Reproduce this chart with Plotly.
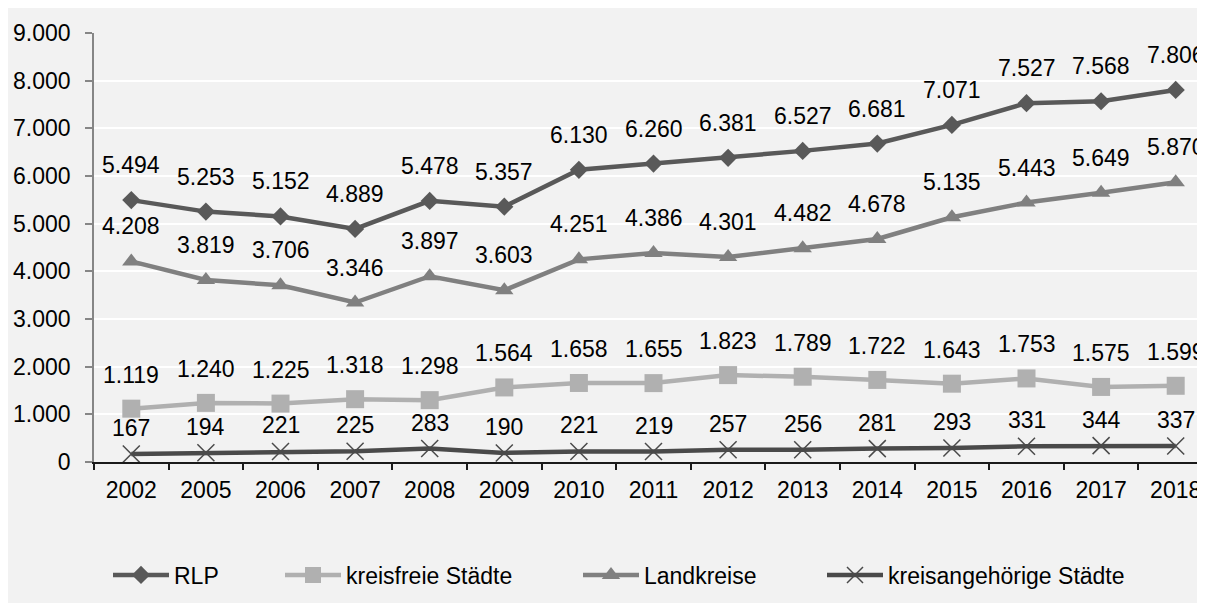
import plotly.graph_objects as go

years = ["2002", "2005", "2006", "2007", "2008", "2009", "2010", "2011",
         "2012", "2013", "2014", "2015", "2016", "2017", "2018"]
rlp = [5494, 5253, 5152, 4889, 5478, 5357, 6130, 6260, 6381, 6527, 6681, 7071, 7527, 7568, 7806]
kreisfreie = [1119, 1240, 1225, 1318, 1298, 1564, 1658, 1655, 1823, 1789, 1722, 1643, 1753, 1575, 1599]
landkreise = [4208, 3819, 3706, 3346, 3897, 3603, 4251, 4386, 4301, 4482, 4678, 5135, 5443, 5649, 5870]
kreisang = [167, 194, 221, 225, 283, 190, 221, 219, 257, 256, 281, 293, 331, 344, 337]

y_ticks = [0, 1000, 2000, 3000, 4000, 5000, 6000, 7000, 8000, 9000]

W, H = 1205, 603
L, R, T, B = 86, 0, 25, 149
pw = W - L - R
ph = H - T - B
FS = 23

series = [
    dict(name="RLP", y=rlp, color="#595959", symbol="diamond", msize=14, shift=20,
         legend="legend", lx=105),
    dict(name="kreisfreie Städte", y=kreisfreie, color="#b0b0b0", symbol="square", msize=18, shift=19,
         legend="legend2", lx=277),
    dict(name="Landkreise", y=landkreise, color="#808080", symbol="triangle-up", msize=16, shift=20,
         legend="legend3", lx=575),
    dict(name="kreisangehörige Städte", y=kreisang, color="#4a4a4a", symbol="x-thin-open", msize=17, shift=11,
         legend="legend4", lx=819),
]

def de(v):
    return f"{v:,}".replace(",", ".")

fig = go.Figure()
annotations = []
legends = {}
FONT = "Liberation Sans, Arial, sans-serif"
for s in series:
    is_x = s["symbol"].startswith("x")
    fig.add_trace(go.Scatter(
        x=years, y=s["y"], name=s["name"], mode="lines+markers",
        legend=s["legend"], showlegend=True,
        line=dict(color=s["color"], width=4.5),
        marker=dict(symbol=s["symbol"], size=s["msize"], color=s["color"],
                    line=dict(color="#4a4a4a" if is_x else s["color"],
                              width=1.5 if is_x else 0)),
    ))
    legends[s["legend"]] = dict(
        orientation="h", x=(s["lx"] - 5 - L) / pw, xanchor="left",
        y=(T + ph - 567) / ph, yanchor="middle",
        bgcolor="rgba(0,0,0,0)", borderwidth=0,
        font=dict(family=FONT, size=FS, color="#000000"),
        itemwidth=56,
    )
    for i, yv in enumerate(s["y"]):
        annotations.append(dict(
            x=i, y=yv, xref="x", yref="y", text=de(yv), showarrow=False,
            yanchor="bottom", xanchor="center", yshift=s["shift"],
            font=dict(family=FONT, size=FS, color="#000000"),
        ))

fig.update_layout(
    width=W, height=H,
    margin=dict(l=L, r=R, t=T, b=B, pad=0),
    paper_bgcolor="#f2f2f2",
    plot_bgcolor="#f2f2f2",
    separators=",.",
    showlegend=True,
    font=dict(family=FONT, size=FS, color="#000000"),
    annotations=annotations,
    xaxis=dict(
        type="category", range=[-0.5, 14.5],
        showgrid=False, showline=True, linecolor="#1a1a1a", linewidth=1.5,
        ticks="outside", tickson="boundaries", ticklen=6, tickcolor="#1a1a1a", tickwidth=1.5,
        ticklabelstandoff=7,
        tickfont=dict(size=FS), zeroline=False,
    ),
    yaxis=dict(
        range=[0, 9000], tickvals=y_ticks, tickformat=",d",
        showgrid=True, gridcolor="#ffffff", gridwidth=2,
        showline=True, linecolor="#868686", linewidth=1.5,
        ticks="outside", ticklen=7, tickcolor="#868686", tickwidth=1.5,
        ticklabelstandoff=10,
        tickfont=dict(size=FS), zeroline=False,
    ),
    **legends,
)

fig.write_html(
    "out.html",
    post_script="document.documentElement.style.overflow='hidden';document.body.style.overflow='hidden';",
)
